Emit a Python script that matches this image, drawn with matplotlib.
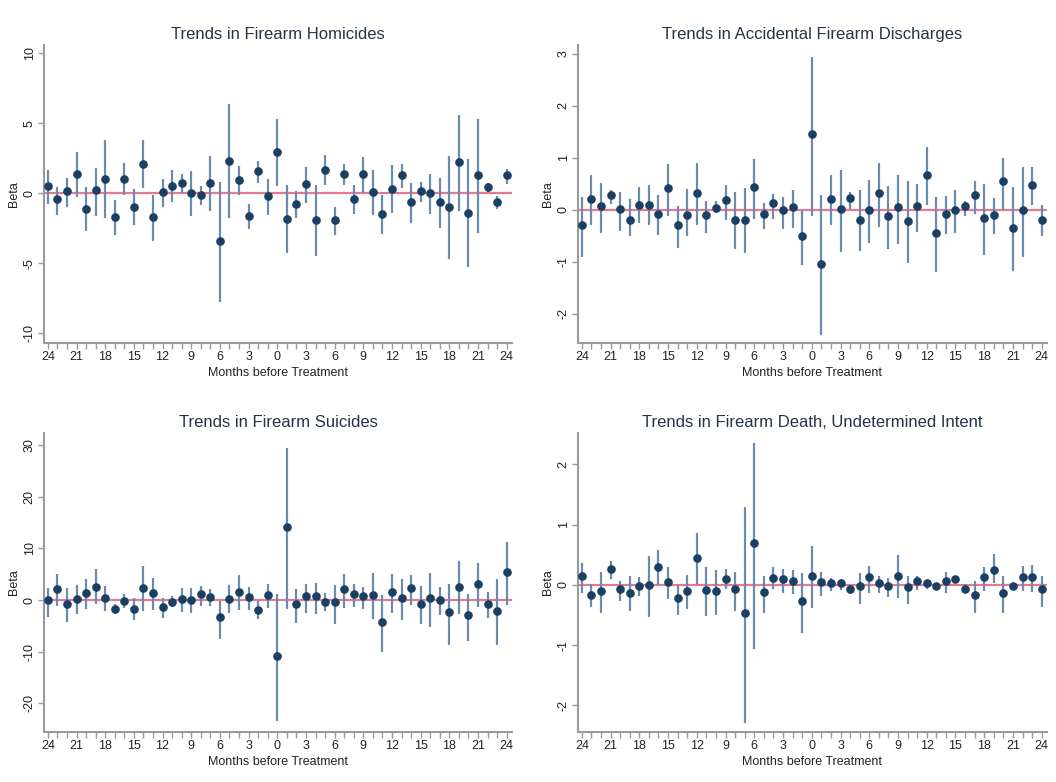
import matplotlib
matplotlib.use("Agg")
import matplotlib.pyplot as plt
import numpy as np

plt.rcParams['font.family'] = ['Liberation Sans', 'DejaVu Sans']

months = list(range(-24, 25))
xtick_vals = list(range(-24, 25, 3))
xtick_labels = [str(abs(v)) for v in xtick_vals]

titles = ["Trends in Firearm Homicides",
          "Trends in Accidental Firearm Discharges",
          "Trends in Firearm Suicides",
          "Trends in Firearm Death, Undetermined Intent"]

hom_beta = [0.55, -0.43, 0.14, 1.36, -1.1, 0.21, 1.05, -1.71, 1.05, -0.95,
            2.12, -1.71, 0.12, 0.52, 0.71, 0.0, -0.12, 0.71, -3.43, 2.31,
            0.95, -1.62, 1.6, -0.19, 2.98, -1.81, -0.74, 0.64, -1.93, 1.69,
            -1.93, 1.38, -0.43, 1.38, 0.12, -1.5, 0.33, 1.29, -0.62, 0.14,
            0.0, -0.62, -0.95, 2.24, -1.38, 1.29, 0.45, -0.62, 1.29]
hom_hi = [1.64, 0.48, 1.12, 2.95, 0.48, 1.8, 3.8, -0.48, 2.14, 0.29,
          3.81, -0.1, 1.0, 1.67, 1.4, 1.57, 0.52, 2.67, 0.81, 6.38,
          1.95, -0.79, 2.29, 1.05, 5.29, 0.57, 0.17, 1.88, 0.57, 2.71,
          -0.95, 2.07, 0.57, 2.62, 1.67, -0.14, 2.0, 2.07, 0.71, 0.81,
          1.36, 1.12, 2.67, 5.62, 2.48, 5.33, 0.76, -0.19, 1.71]
hom_lo = [-0.74, -1.55, -1.0, -0.3, -2.7, -1.6, -1.8, -3.0, -0.1, -2.3,
          0.4, -3.4, -0.95, -0.65, 0.0, -1.6, -0.85, -1.3, -7.75, -1.8,
          -0.1, -2.55, 0.75, -1.55, 0.5, -4.25, -1.8, -0.7, -4.5, 0.6,
          -3.0, 0.6, -1.5, 0.0, -1.55, -2.9, -1.4, 0.4, -2.1, -0.65,
          -1.5, -2.45, -4.7, -1.3, -5.3, -2.85, 0.1, -1.15, 0.7]

acc_beta = [-0.29, 0.21, 0.07, 0.28, 0.01, -0.19, 0.1, 0.1, -0.07, 0.42,
            -0.3, -0.1, 0.33, -0.1, 0.04, 0.19, -0.19, -0.19, 0.44, -0.07,
            0.13, -0.01, 0.06, -0.5, 1.45, -1.04, 0.21, 0.01, 0.22, -0.19,
            -0.01, 0.33, -0.12, 0.05, -0.22, 0.08, 0.67, -0.44, -0.07, -0.01,
            0.08, 0.28, -0.15, -0.1, 0.56, -0.35, -0.01, 0.48, -0.19]
acc_hi = [0.25, 0.67, 0.52, 0.39, 0.35, 0.21, 0.43, 0.47, 0.28, 0.88,
          0.07, 0.4, 0.9, 0.17, 0.17, 0.48, 0.35, 0.42, 0.97, 0.13,
          0.31, 0.25, 0.39, 0.0, 2.94, 0.29, 0.67, 0.76, 0.35, 0.39,
          0.57, 0.9, 0.46, 0.67, 0.55, 0.5, 1.21, 0.25, 0.26, 0.39,
          0.17, 0.55, 0.49, 0.22, 1.0, 0.43, 0.83, 0.83, 0.1]
acc_lo = [-0.9, -0.29, -0.44, 0.12, -0.4, -0.51, -0.26, -0.29, -0.49, -0.12,
          -0.74, -0.5, -0.29, -0.44, -0.06, -0.19, -0.76, -0.82, -0.18, -0.36,
          -0.17, -0.37, -0.35, -1.06, -0.12, -2.4, -0.3, -0.81, 0.01, -0.79,
          -0.63, -0.33, -0.76, -0.66, -1.03, -0.42, 0.09, -1.19, -0.46, -0.44,
          -0.12, -0.08, -0.87, -0.46, 0.0, -1.18, -0.9, 0.1, -0.51]

sui_beta = [0.0, 2.1, -0.8, 0.2, 1.4, 2.5, 0.4, -1.7, -0.2, -1.7,
            2.3, 1.4, -1.4, -0.4, 0.2, 0.0, 1.2, 0.6, -3.3, 0.2,
            1.6, 0.6, -1.9, 1.0, -10.9, 14.2, -0.7, 0.7, 0.7, -0.3,
            -0.4, 2.1, 1.2, 0.7, 0.9, -4.2, 1.5, 0.4, 2.4, -0.7,
            0.4, 0.1, -2.3, 2.6, -3.0, 3.2, -0.7, -2.2, 5.5]
sui_hi = [2.3, 5.0, 2.3, 2.9, 4.1, 6.0, 2.7, -0.8, 1.2, 0.4,
          6.6, 4.3, 0.4, 0.8, 2.3, 2.3, 2.7, 2.1, -0.2, 2.9,
          4.8, 2.5, -0.2, 3.1, 1.1, 29.4, 2.1, 3.1, 3.4, 1.3,
          3.0, 5.1, 3.1, 2.6, 5.3, 0.9, 5.1, 4.0, 4.9, 2.8,
          5.3, 2.6, 3.1, 7.6, 1.2, 7.2, 1.5, 4.0, 11.3]
sui_lo = [-3.3, -1.2, -4.3, -2.7, -1.7, -0.8, -2.1, -2.7, -1.6, -3.9,
          -2.1, -1.9, -3.5, -1.4, -2.3, -2.5, -1.2, -1.2, -7.6, -2.5,
          -1.9, -1.9, -3.7, -1.6, -23.4, -1.8, -4.4, -2.6, -2.8, -2.2,
          -4.7, -1.5, -1.3, -1.8, -3.7, -10.1, -2.5, -3.9, -0.9, -4.7,
          -5.2, -2.9, -8.7, -2.8, -8.0, -1.3, -3.5, -8.7, -1.0]

und_beta = [0.14, -0.17, -0.1, 0.27, -0.07, -0.13, -0.02, 0.0, 0.3, 0.05,
            -0.22, -0.1, 0.44, -0.08, -0.1, 0.1, -0.07, -0.47, 0.69, -0.12,
            0.12, 0.09, 0.07, -0.27, 0.15, 0.05, 0.03, 0.03, -0.07, -0.02,
            0.13, 0.03, -0.01, 0.15, -0.04, 0.06, 0.03, -0.02, 0.06, 0.1,
            -0.06, -0.17, 0.13, 0.25, -0.14, -0.02, 0.13, 0.13, -0.07]
und_hi = [0.36, 0.02, 0.22, 0.4, 0.07, 0.15, 0.13, 0.48, 0.58, 0.29,
          0.0, 0.17, 0.86, 0.29, 0.25, 0.26, 0.22, 1.3, 2.36, 0.15,
          0.29, 0.26, 0.25, 0.2, 0.65, 0.21, 0.11, 0.09, 0.0, 0.19,
          0.31, 0.14, 0.11, 0.49, 0.15, 0.14, 0.08, 0.03, 0.21, 0.15,
          0.01, 0.07, 0.3, 0.52, 0.14, 0.04, 0.31, 0.33, 0.15]
und_lo = [-0.13, -0.36, -0.47, 0.09, -0.27, -0.44, -0.19, -0.54, 0.0, -0.24,
          -0.5, -0.4, 0.0, -0.51, -0.5, -0.07, -0.43, -2.29, -1.07, -0.46,
          -0.07, -0.13, -0.15, -0.8, -0.39, -0.18, -0.1, -0.08, -0.15, -0.31,
          -0.13, -0.13, -0.2, -0.22, -0.31, -0.09, -0.06, -0.07, -0.14, 0.04,
          -0.12, -0.47, -0.1, 0.03, -0.46, -0.08, -0.1, -0.12, -0.36]

yticks = [[-10, -5, 0, 5, 10], [-2, -1, 0, 1, 2, 3],
          [-20, -10, 0, 10, 20, 30], [-2, -1, 0, 1, 2]]
ylims = [(-10.7, 10.6), (-2.56, 3.17), (-25.6, 32.4), (-2.44, 2.52)]

series = [(hom_beta, hom_lo, hom_hi), (acc_beta, acc_lo, acc_hi),
          (sui_beta, sui_lo, sui_hi), (und_beta, und_lo, und_hi)]

W, H = 1056, 782
fig = plt.figure(figsize=(W / 100, H / 100), dpi=100)
boxes = [(44, 45, 512, 343), (578, 45, 1047, 343),
         (44, 433, 512, 732), (578, 433, 1047, 732)]

dot_col = '#1b3f63'
bar_col = '#6d8cab'
zero_col = '#e47a92'
axis_col = '#9a9a9a'
text_col = '#222222'

for i, (l, t, r, b) in enumerate(boxes):
    ax = fig.add_axes([l / W, 1 - b / H, (r - l) / W, (b - t) / H])
    beta, lo, hi = series[i]
    ax.axhline(0, color=zero_col, lw=1.6, zorder=1)
    ax.vlines(months, lo, hi, color=bar_col, lw=1.6, zorder=2)
    ax.plot(months, beta, 'o', color=dot_col, ms=5.2, zorder=3)
    ax.set_xlim(-24.4, 24.55)
    ax.set_ylim(*ylims[i])
    ax.set_xticks(xtick_vals)
    ax.set_xticklabels(xtick_labels)
    ax.set_xticks(months, minor=True)
    ax.set_yticks(yticks[i])
    ax.set_yticklabels([str(v) for v in yticks[i]], rotation=90, va='center')
    for s in ['top', 'right']:
        ax.spines[s].set_visible(False)
    for s in ['left', 'bottom']:
        ax.spines[s].set_color(axis_col)
        ax.spines[s].set_linewidth(1.5)
    ax.tick_params(axis='both', which='both', length=4, width=1,
                   color=axis_col, labelsize=9, labelcolor=text_col, pad=2)
    ax.set_title(titles[i], fontsize=12, color='#243447', pad=4)
    ax.set_xlabel("Months before Treatment", fontsize=9, color=text_col, labelpad=2.5)
    ax.set_ylabel("Beta", fontsize=9, color=text_col, labelpad=3)

fig.savefig("out.png", dpi=100)
